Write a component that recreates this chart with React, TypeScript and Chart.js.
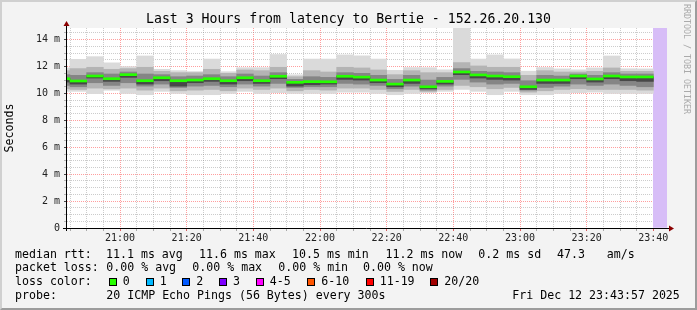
import React, { useEffect, useRef } from 'react';
import { Chart, registerables } from 'chart.js';

Chart.register(...registerables);

// ---- data (times are 5-minute RRD steps, values in milliseconds) ----
const slotStart = [
  '20:40', '20:45', '20:50', '20:55', '21:00', '21:05', '21:10', '21:15', '21:20',
  '21:25', '21:30', '21:35', '21:40', '21:45', '21:50', '21:55', '22:00', '22:05',
  '22:10', '22:15', '22:20', '22:25', '22:30', '22:35', '22:40', '22:45', '22:50',
  '22:55', '23:00', '23:05', '23:10', '23:15', '23:20', '23:25', '23:30', '23:35',
];
const medianMs = [
  11.10, 10.93, 11.30, 11.10, 11.40, 10.95, 11.17, 10.95, 11.00,
  11.10, 10.95, 11.17, 10.95, 11.28, 10.83, 10.88, 10.87, 11.28,
  11.22, 11.00, 10.70, 11.00, 10.50, 10.90, 11.60, 11.38, 11.30,
  11.25, 10.50, 11.00, 11.00, 11.30, 11.08, 11.30, 11.23, 11.23,
];
const maxMs = [
  11.90, 12.54, 12.74, 12.28, 12.00, 12.79, 11.80, 11.70, 11.63,
  12.56, 11.62, 11.92, 11.92, 12.90, 11.39, 12.56, 12.56, 12.87,
  12.80, 12.56, 11.72, 11.93, 11.92, 11.76, 15.20, 12.56, 12.87,
  12.57, 11.66, 11.93, 11.83, 11.76, 11.90, 12.79, 11.84, 11.83,
];
const upperMs = [
  11.70, 11.85, 11.95, 11.80, 11.85, 11.95, 11.65, 11.55, 11.55,
  11.80, 11.50, 11.75, 11.70, 11.95, 11.25, 11.70, 11.60, 11.95,
  11.90, 11.75, 11.40, 11.70, 11.55, 11.55, 12.30, 12.05, 11.95,
  11.95, 11.35, 11.70, 11.60, 11.60, 11.65, 11.90, 11.65, 11.65,
];
const darkTopMs = [
  11.40, 11.35, 11.55, 11.45, 11.60, 11.45, 11.40, 11.25, 11.30,
  11.40, 11.25, 11.45, 11.30, 11.55, 11.05, 11.25, 11.20, 11.55,
  11.50, 11.35, 11.05, 11.35, 11.00, 11.20, 11.85, 11.65, 11.60,
  11.55, 10.95, 11.35, 11.30, 11.45, 11.35, 11.55, 11.45, 11.45,
];
const coreBottomMs = [
  10.85, 10.70, 11.15, 10.90, 11.20, 10.70, 10.95, 10.55, 10.80,
  10.90, 10.70, 10.95, 10.75, 11.10, 10.55, 10.65, 10.70, 11.05,
  11.00, 10.80, 10.50, 10.75, 10.35, 10.70, 11.40, 11.15, 11.05,
  11.00, 10.30, 10.75, 10.75, 11.10, 10.85, 11.10, 10.95, 10.90,
];
const darkBottomMs = [
  10.60, 10.50, 10.80, 10.60, 10.80, 10.55, 10.70, 10.45, 10.55,
  10.60, 10.50, 10.70, 10.55, 10.75, 10.45, 10.50, 10.50, 10.75,
  10.70, 10.60, 10.35, 10.55, 10.25, 10.55, 11.05, 10.85, 10.70,
  10.75, 10.25, 10.45, 10.55, 10.70, 10.60, 10.70, 10.60, 10.50,
];
const lowerMs = [
  10.35, 10.30, 10.40, 10.35, 10.40, 10.25, 10.40, 10.20, 10.25,
  10.30, 10.20, 10.40, 10.30, 10.40, 10.20, 10.30, 10.25, 10.40,
  10.40, 10.30, 10.15, 10.30, 10.15, 10.30, 10.60, 10.50, 10.35,
  10.45, 10.10, 10.20, 10.30, 10.35, 10.30, 10.30, 10.30, 10.25,
];
const minMs = [
  10.16, 10.16, 9.99, 10.24, 10.00, 9.91, 10.16, 10.00, 9.91,
  9.91, 10.00, 10.16, 10.00, 10.06, 10.00, 10.00, 10.00, 10.10,
  10.10, 10.00, 9.91, 10.00, 10.06, 10.16, 10.30, 10.16, 9.91,
  10.16, 9.91, 9.91, 10.00, 10.06, 10.10, 10.00, 10.00, 10.00,
];
const unknownSlots = ['23:40'];

const viewStart = '20:44:06';
const viewEnd = '23:44:06';
const baseHour = 20;
const stepMinutes = 5;
const majorMinutes = 20;
const yMax = 14.87;
const yMinorStep = 0.5;
const yMajorStep = 2;

const lossColors: [string, string][] = [
  ['0', '#26ff00'], ['1', '#00b8ff'], ['2', '#0059ff'], ['3', '#7e00ff'],
  ['4-5', '#ff00ff'], ['6-10', '#ff5500'], ['11-19', '#ff0000'], ['20/20', '#a10000'],
];

const toMin = (t: string) => {
  const [h, m, s] = t.split(':').map(Number);
  return (h - baseHour) * 60 + m + (s || 0) / 60;
};
const pad2 = (n: number) => String(n).padStart(2, '0');

const MONO = '"DejaVu Sans Mono", monospace';

function App() {
  const ref = useRef<HTMLCanvasElement | null>(null);

  useEffect(() => {
    const canvas = ref.current!;
    const xMin = toMin(viewStart);
    const xMax = toMin(viewEnd);
    const band = (lo: number[], hi: number[]) =>
      slotStart.map((t, i) => ({ x: toMin(t) + stepMinutes / 2, y: [lo[i], hi[i]] }));
    const medianHalf = 0.075;
    const barCommon = {
      type: 'bar' as const,
      grouped: false,
      barPercentage: 1,
      categoryPercentage: 1,
      borderWidth: 0,
    };

    const xTicks: number[] = [];
    for (let v = Math.ceil(xMin / stepMinutes) * stepMinutes; v < xMax; v += stepMinutes) xTicks.push(v);
    const yTicks: number[] = [];
    for (let k = 0; k * yMinorStep < yMax; k++) yTicks.push(k * yMinorStep);

    const isMajorX = (v: number) => Math.abs(v % majorMinutes) < 1e-6;
    const isMajorY = (v: number) => Math.abs(v % yMajorStep) < 1e-6;
    const MAJOR = 'rgba(255,0,0,0.38)';
    const MINOR = 'rgba(120,120,120,0.38)';

    const bgPlugin = {
      id: 'bg',
      beforeDraw(chart: any) {
        const { ctx, chartArea: a } = chart;
        ctx.save();
        ctx.fillStyle = '#ffffff';
        ctx.fillRect(a.left, a.top, a.right - a.left, a.bottom - a.top);
        ctx.restore();
      },
    };
    const axisPlugin = {
      id: 'axes',
      afterDraw(chart: any) {
        const { ctx, chartArea: a } = chart;
        ctx.save();
        ctx.strokeStyle = '#000';
        ctx.lineWidth = 1;
        ctx.beginPath();
        ctx.moveTo(a.left - 0.5, a.bottom + 3);
        ctx.lineTo(a.left - 0.5, a.top - 3);
        ctx.moveTo(a.left - 4, a.bottom + 0.5);
        ctx.lineTo(a.right + 3, a.bottom + 0.5);
        ctx.stroke();
        ctx.fillStyle = '#8b0000';
        ctx.beginPath();
        ctx.moveTo(a.left - 3.5, a.top - 2);
        ctx.lineTo(a.left + 2.5, a.top - 2);
        ctx.lineTo(a.left - 0.5, a.top - 7);
        ctx.closePath();
        ctx.fill();
        ctx.beginPath();
        ctx.moveTo(a.right + 2, a.bottom - 2.5);
        ctx.lineTo(a.right + 2, a.bottom + 3.5);
        ctx.lineTo(a.right + 7, a.bottom + 0.5);
        ctx.closePath();
        ctx.fill();
        ctx.restore();
      },
    };

    const chart = new Chart(canvas, {
      type: 'bar',
      data: {
        datasets: [
          {
            ...barCommon,
            label: 'median',
            order: 0,
            backgroundColor: lossColors[0][1],
            data: slotStart.map((t, i) => ({
              x: toMin(t) + stepMinutes / 2,
              y: [medianMs[i] - medianHalf, medianMs[i] + medianHalf],
            })),
          },
          { ...barCommon, label: 'core', order: 1, backgroundColor: '#484848', data: band(coreBottomMs, medianMs) },
          { ...barCommon, label: 'dark', order: 2, backgroundColor: '#858585', data: band(darkBottomMs, darkTopMs) },
          { ...barCommon, label: 'mid', order: 3, backgroundColor: '#b4b4b4', data: band(lowerMs, upperMs) },
          { ...barCommon, label: 'outer', order: 4, backgroundColor: '#dadada', data: band(minMs, maxMs) },
          {
            ...barCommon,
            label: 'unknown',
            order: 5,
            backgroundColor: '#d7bdf7',
            data: unknownSlots.map((t) => ({ x: toMin(t) + stepMinutes / 2, y: [0, yMax + 1] })),
          },
        ] as any,
      },
      options: {
        animation: false,
        responsive: false,
        maintainAspectRatio: false,
        events: [],
        layout: { padding: { left: 0, top: 28, right: 30, bottom: 62 } },
        plugins: {
          legend: { display: false },
          tooltip: { enabled: false },
          title: { display: false },
        },
        scales: {
          x: {
            type: 'linear',
            min: xMin,
            max: xMax,
            offset: false,
            afterBuildTicks: (s: any) => {
              s.ticks = xTicks.map((v) => ({ value: v }));
            },
            afterFit: (s: any) => {
              s.height = 20;
            },
            grid: {
              offset: false,
              lineWidth: 1,
              color: (c: any) => (c.tick && isMajorX(c.tick.value) ? MAJOR : MINOR),
              drawTicks: true,
              tickLength: 3,
              tickColor: (c: any) => (c.tick && isMajorX(c.tick.value) ? 'rgba(200,0,0,0.6)' : 'rgba(0,0,0,0.3)'),
            },
            border: { display: false, dash: [1, 1] },
            ticks: {
              autoSkip: false,
              maxRotation: 0,
              minRotation: 0,
              padding: 1,
              color: '#222',
              font: { family: MONO, size: 10 },
              callback: (v: any) => {
                const n = Number(v);
                if (!isMajorX(n)) return '';
                return `${Math.floor(n / 60) + baseHour}:${pad2(Math.round(n % 60))}`;
              },
            },
          },
          y: {
            type: 'linear',
            min: 0,
            max: yMax,
            afterBuildTicks: (s: any) => {
              s.ticks = yTicks.map((v) => ({ value: v }));
            },
            afterFit: (s: any) => {
              s.width = 67;
            },
            grid: {
              lineWidth: 1,
              color: (c: any) => (c.tick && isMajorY(c.tick.value) ? MAJOR : MINOR),
              drawTicks: true,
              tickLength: 3,
              tickColor: (c: any) => (c.tick && isMajorY(c.tick.value) ? 'rgba(0,0,0,0.7)' : 'rgba(0,0,0,0.25)'),
            },
            border: { display: false, dash: [1, 1] },
            title: {
              display: true,
              text: 'Seconds',
              color: '#000',
              font: { family: MONO, size: 11.6 },
              padding: { top: 3, bottom: 0 },
            },
            ticks: {
              autoSkip: false,
              padding: 4,
              color: '#222',
              font: { family: MONO, size: 10 },
              callback: (v: any) => {
                const n = Number(v);
                if (!isMajorY(n)) return '';
                return n === 0 ? '0' : `${n} m`;
              },
            },
          },
        },
      } as any,
      plugins: [bgPlugin, axisPlugin],
    });
    return () => chart.destroy();
  }, []);

  const text = (s: string, x: number, y: number, extra: React.CSSProperties = {}) => (
    <div
      key={`${s}-${x}-${y}`}
      style={{
        position: 'absolute',
        left: x,
        top: y,
        fontFamily: MONO,
        fontSize: 11.6,
        lineHeight: 1,
        whiteSpace: 'pre',
        color: '#000',
        ...extra,
      }}
    >
      {s}
    </div>
  );

  const line1 = 248.7;
  const line2 = 262.2;
  const line3 = 276.2;
  const line4 = 289.7;
  const boxX = [108.7, 145.7, 182.3, 219, 255.7, 307.3, 365.7, 430.3];

  return (
    <div
      style={{
        position: 'absolute',
        left: 0,
        top: 0,
        width: 697,
        height: 310,
        background: '#f3f3f3',
        overflow: 'hidden',
      }}
    >
      <canvas ref={ref} width={697} height={310} style={{ position: 'absolute', left: 0, top: 0, width: 697, height: 310 }} />
      <div
        style={{
          position: 'absolute',
          left: 0,
          top: 12.3,
          width: 697,
          textAlign: 'center',
          fontFamily: MONO,
          fontSize: 13.2,
          lineHeight: 1,
          color: '#000',
          whiteSpace: 'pre',
        }}
      >
        Last 3 Hours from latency to Bertie - 152.26.20.130
      </div>
      <div
        style={{
          position: 'absolute',
          left: 683,
          top: 4,
          writingMode: 'vertical-rl',
          fontFamily: MONO,
          fontSize: 8.3,
          lineHeight: 1,
          color: '#aaaaaa',
          whiteSpace: 'pre',
        }}
      >
        RRDTOOL / TOBI OETIKER
      </div>
      {text('median rtt:', 15, line1)}
      {text('11.1 ms avg', 106, line1)}
      {text('11.6 ms max', 199, line1)}
      {text('10.5 ms min', 292, line1)}
      {text('11.2 ms now', 385.5, line1)}
      {text('0.2 ms sd', 478.3, line1)}
      {text('47.3', 557, line1)}
      {text('am/s', 606.7, line1)}
      {text('packet loss:', 15, line2)}
      {text('0.00 % avg', 106.3, line2)}
      {text('0.00 % max', 192.3, line2)}
      {text('0.00 % min', 278.3, line2)}
      {text('0.00 % now', 363, line2)}
      {text('loss color:', 15, line3)}
      {lossColors.map(([label, color], i) => (
        <React.Fragment key={label}>
          <div
            style={{
              position: 'absolute',
              left: boxX[i],
              top: 278,
              width: 8,
              height: 8,
              boxSizing: 'border-box',
              border: '1px solid #000',
              background: color,
            }}
          />
          {text(label, boxX[i] + 14, line3)}
        </React.Fragment>
      ))}
      {text('probe:', 15, line4)}
      {text('20 ICMP Echo Pings (56 Bytes) every 300s', 106.3, line4)}
      {text('Fri Dec 12 23:43:57 2025', 512.3, line4)}
      <div
        style={{
          position: 'absolute',
          left: 0,
          top: 0,
          width: 697,
          height: 310,
          boxSizing: 'border-box',
          borderTop: '2px solid #d0d0d0',
          borderLeft: '2px solid #d0d0d0',
          borderRight: '2px solid #9c9c9c',
          borderBottom: '2px solid #9c9c9c',
          pointerEvents: 'none',
        }}
      />
    </div>
  );
}

export default App;
